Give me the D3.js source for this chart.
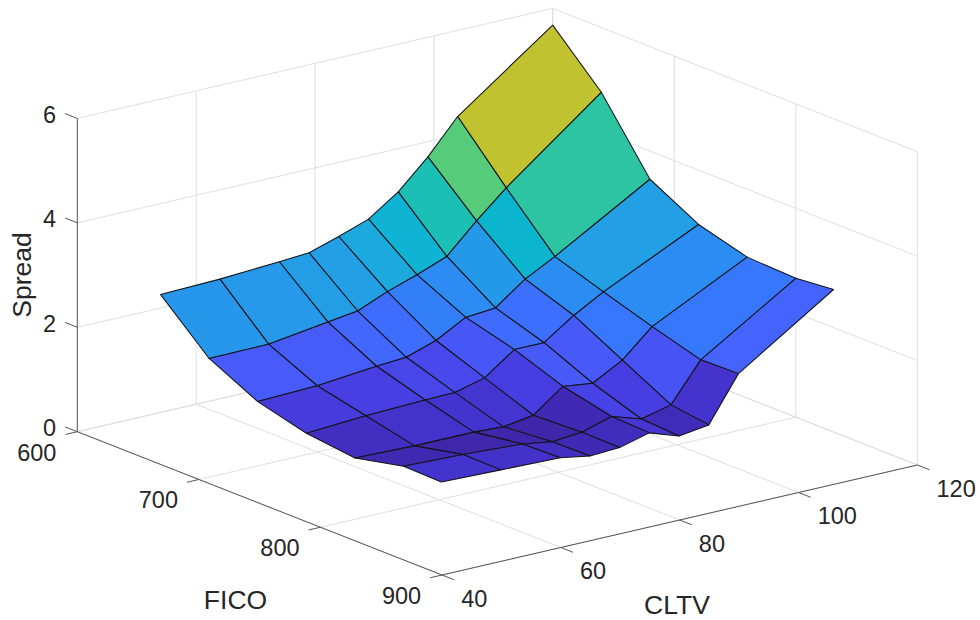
<!DOCTYPE html>
<html>
<head>
<meta charset="utf-8">
<script src="https://cdn.jsdelivr.net/npm/d3@7"></script>
<style>
  html, body { margin: 0; background: #fff; }
  svg { display: block; }
  text { font-family: "Liberation Sans", Arial, sans-serif; fill: #262626; }
</style>
</head>
<body>
<svg id="chart" width="980" height="620"></svg>
<script>
// grid of the surface
var fico = [600, 640, 680, 720, 760, 800, 831];
var cltv = [54, 64, 74, 79, 84, 89, 94, 99, 104, 120];

// spread by cltv, one list per fico level
var spread600 = [2.26, 2.29, 2.36, 2.40, 2.58, 2.78, 3.17, 3.71, 4.35, 5.68];
var spread640 = [1.40, 1.41, 1.57, 1.65, 1.89, 2.08, 2.30, 2.85, 3.35, 4.76];
var spread680 = [0.94, 0.98, 1.09, 1.13, 1.32, 1.63, 1.68, 2.10, 2.40, 3.46];
var spread720 = [0.70, 0.77, 0.81, 0.82, 0.97, 1.38, 1.38, 1.77, 2.09, 2.96];
var spread760 = [0.59, 0.56, 0.56, 0.53, 0.62, 1.04, 0.97, 1.28, 1.79, 2.70];
var spread800 = [0.80, 0.76, 0.70, 0.61, 0.66, 0.83, 0.65, 0.79, 1.52, 2.66];
var spread830 = [0.78, 0.75, 0.72, 0.62, 0.65, 0.80, 0.61, 0.69, 1.54, 2.73];
var spread = [spread600, spread640, spread680, spread720, spread760, spread800, spread830];

// axis ticks
var ficoTicks = [600, 700, 800, 900];
var cltvTicks = [40, 60, 80, 100, 120];
var spreadTicks = [0, 2, 4, 6];

// parula colormap, every third level of the 64 level table
var parula = ["#3e26a8", "#4432cb", "#4741e5", "#4852f4", "#4563fd", "#3875fe", "#2e87f7", "#2796eb",
  "#20a5e3", "#12b1d6", "#02bac3", "#24c1ae", "#37c897", "#57cc7a", "#81cc59", "#abc739",
  "#d1bf27", "#f0ba36", "#fec338", "#fad42e", "#f5e624", "#f9fb15"];

var svg = d3.select("#chart");

// oblique projection: each data axis moves the point along its own screen direction
var ficoX = d3.scaleLinear().domain([600, 900]).range([77.3, 442]);
var ficoY = d3.scaleLinear().domain([600, 900]).range([431.7, 575]);
var cltvX = d3.scaleLinear().domain([40, 120]).range([0, 475.4]);
var cltvY = d3.scaleLinear().domain([40, 120]).range([0, -110]);
var spreadY = d3.scaleLinear().domain([0, 6]).range([0, -313.3]);

function project(f, c, z) {
  return [ficoX(f) + cltvX(c), ficoY(f) + cltvY(c) + spreadY(z)];
}

var allValues = d3.merge(spread);
var colorScale = d3.scaleSequential(d3.piecewise(d3.interpolateRgb, parula))
  .domain(d3.extent(allValues));

var outline = d3.line();

function drawLine(g, a, b, color, width) {
  g.append("line")
    .attr("x1", a[0]).attr("y1", a[1])
    .attr("x2", b[0]).attr("y2", b[1])
    .attr("stroke", color)
    .attr("stroke-width", width);
}

// back planes and floor grid
var gridColor = "#dedede";
var grid = svg.append("g");
cltvTicks.forEach(function (c) {
  drawLine(grid, project(600, c, 0), project(900, c, 0), gridColor, 1);
  drawLine(grid, project(600, c, 0), project(600, c, 6), gridColor, 1);
});
ficoTicks.forEach(function (f) {
  drawLine(grid, project(f, 40, 0), project(f, 120, 0), gridColor, 1);
  drawLine(grid, project(f, 120, 0), project(f, 120, 6), gridColor, 1);
});
spreadTicks.forEach(function (z) {
  drawLine(grid, project(600, 40, z), project(600, 120, z), gridColor, 1);
  drawLine(grid, project(600, 120, z), project(900, 120, z), gridColor, 1);
});

// axis lines and ticks
var axisColor = "#555555";
var axes = svg.append("g");
drawLine(axes, project(600, 40, 0), project(600, 40, 6), axisColor, 1);
drawLine(axes, project(600, 40, 0), project(900, 40, 0), axisColor, 1);
drawLine(axes, project(900, 40, 0), project(900, 120, 0), axisColor, 1);

spreadTicks.forEach(function (z) {
  var end = project(590, 40, z);
  drawLine(axes, project(600, 40, z), end, axisColor, 1);
  axes.append("text")
    .attr("x", end[0] - 9).attr("y", end[1] + 1)
    .attr("dy", "0.35em")
    .attr("text-anchor", "end")
    .attr("font-size", 23.5)
    .text(z);
});
ficoTicks.forEach(function (f) {
  var end = project(f, 38, 0);
  drawLine(axes, project(f, 40, 0), end, axisColor, 1);
  axes.append("text")
    .attr("x", end[0] - 9).attr("y", end[1] + 18)
    .attr("dy", "0.35em")
    .attr("text-anchor", "end")
    .attr("font-size", 23.5)
    .text(f);
});
cltvTicks.forEach(function (c) {
  var end = project(910, c, 0);
  drawLine(axes, project(900, c, 0), end, axisColor, 1);
  axes.append("text")
    .attr("x", end[0] + 7).attr("y", end[1] + 18.5)
    .attr("dy", "0.35em")
    .attr("text-anchor", "start")
    .attr("font-size", 23.5)
    .text(c);
});

// surface cells, painted from the far corner to the near one
var cells = [];
d3.range(fico.length - 1).forEach(function (i) {
  d3.range(cltv.length - 2, -1, -1).forEach(function (j) {
    cells.push({i: i, j: j});
  });
});

svg.append("g").selectAll("path")
  .data(cells)
  .join("path")
  .attr("d", function (d) {
    var i = d.i, j = d.j;
    return outline([
      project(fico[i], cltv[j], spread[i][j]),
      project(fico[i], cltv[j + 1], spread[i][j + 1]),
      project(fico[i + 1], cltv[j + 1], spread[i + 1][j + 1]),
      project(fico[i + 1], cltv[j], spread[i + 1][j])
    ]) + "Z";
  })
  .attr("fill", function (d) { return colorScale(spread[d.i][d.j]); })
  .attr("stroke", "#14141a")
  .attr("stroke-width", 1.05)
  .attr("stroke-linejoin", "round");

// axis titles
svg.append("text")
  .attr("x", 235.5).attr("y", 600)
  .attr("dy", "0.35em")
  .attr("text-anchor", "middle")
  .attr("font-size", 26.5)
  .text("FICO");
svg.append("text")
  .attr("x", 677).attr("y", 605)
  .attr("dy", "0.35em")
  .attr("text-anchor", "middle")
  .attr("font-size", 26.5)
  .text("CLTV");
svg.append("text")
  .attr("transform", "translate(22,275) rotate(-90)")
  .attr("dy", "0.35em")
  .attr("text-anchor", "middle")
  .attr("font-size", 26.5)
  .text("Spread");
</script>
</body>
</html>
